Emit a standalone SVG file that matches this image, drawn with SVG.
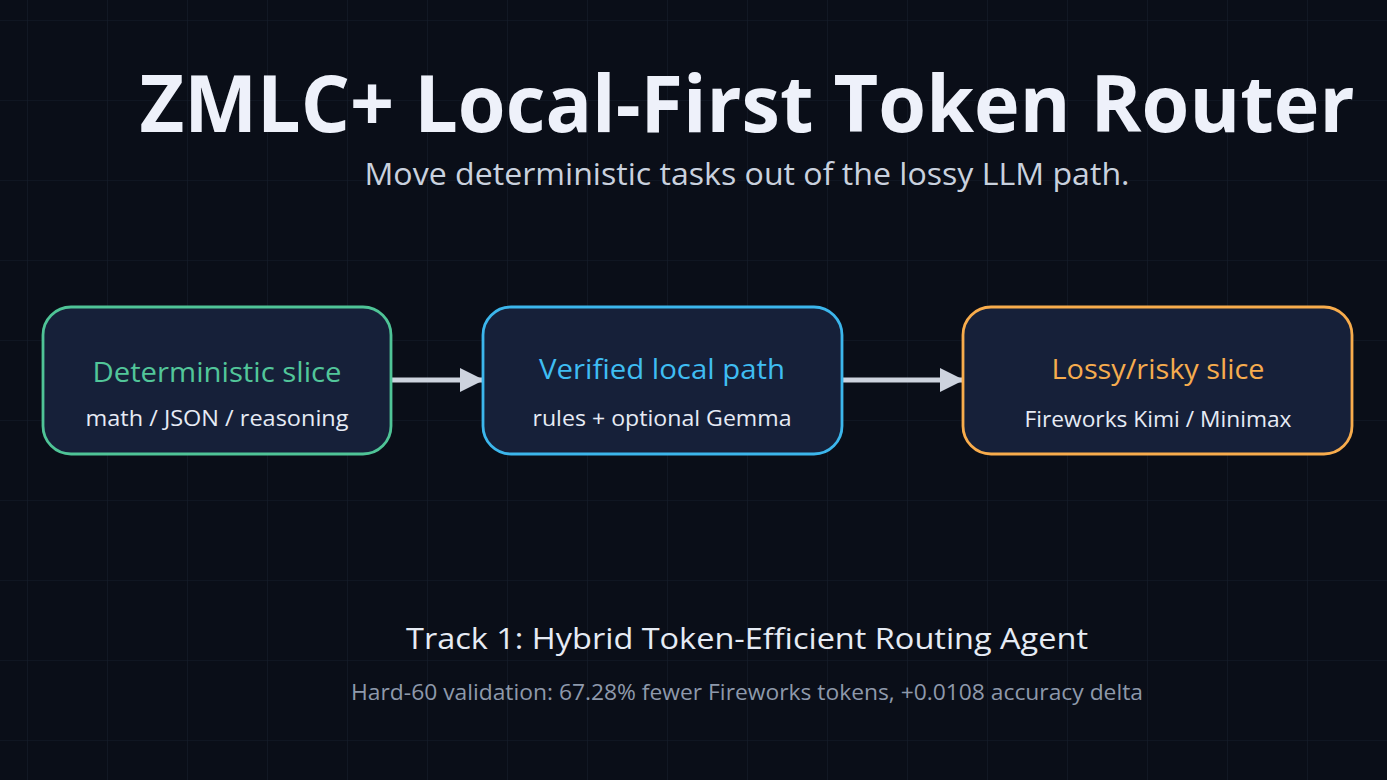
<svg xmlns="http://www.w3.org/2000/svg" width="1387" height="780" viewBox="0 0 1387 780">
<defs>
<pattern id="grid" x="27" y="20" width="80" height="80" patternUnits="userSpaceOnUse">
<path d="M0 0V80M0 0H80" fill="none" stroke="#161d2b" stroke-width="1.2"/>
</pattern>
<marker id="ah" markerWidth="24" markerHeight="24" viewBox="0 0 24 24" refX="23" refY="12" orient="auto" markerUnits="userSpaceOnUse">
<path d="M0 0L24 12L0 24Z" fill="#cdd3de"/>
</marker>
</defs>
<style>
text{font-family:"Open Sans","Noto Sans","Liberation Sans",sans-serif;text-anchor:middle}
.box{fill:#162039;stroke-width:2.8}
.t{font-size:28px}
.s{font-size:21px;fill:#e6ebf5}
.edge{stroke:#cdd3de;stroke-width:5;fill:none}
</style>
<rect width="1387" height="780" fill="#0a0e18"/>
<rect width="1387" height="780" fill="url(#grid)"/>
<g id="header">
<text x="747" y="132" font-size="78" font-weight="700" fill="#eef1fa" textLength="1215" lengthAdjust="spacingAndGlyphs">ZMLC+ Local-First Token Router</text>
<text x="747" y="185" font-size="31" fill="#c9d1de" textLength="765" lengthAdjust="spacingAndGlyphs">Move deterministic tasks out of the lossy LLM path.</text>
</g>
<g id="connectors">
<line class="edge" x1="391" y1="380" x2="483" y2="380" marker-end="url(#ah)"/>
<line class="edge" x1="842" y1="380" x2="963" y2="380" marker-end="url(#ah)"/>
</g>
<g id="node-deterministic">
<rect class="box" x="43" y="307" width="348" height="147" rx="28" stroke="#4fc497"/>
<text class="t" x="217" y="382" fill="#52c69a" textLength="249" lengthAdjust="spacingAndGlyphs">Deterministic slice</text>
<text class="s" x="217" y="426" textLength="263" lengthAdjust="spacingAndGlyphs">math / JSON / reasoning</text>
</g>
<g id="node-verified">
<rect class="box" x="483" y="307" width="359" height="147" rx="28" stroke="#3cb6ec"/>
<text class="t" x="662" y="379" fill="#3fbdf2" textLength="246" lengthAdjust="spacingAndGlyphs">Verified local path</text>
<text class="s" x="662" y="426" textLength="259" lengthAdjust="spacingAndGlyphs">rules + optional Gemma</text>
</g>
<g id="node-lossy">
<rect class="box" x="963" y="307" width="389" height="147" rx="28" stroke="#f8ac4c"/>
<text class="t" x="1158" y="379" fill="#f6ac4e" textLength="213" lengthAdjust="spacingAndGlyphs">Lossy/risky slice</text>
<text class="s" x="1158" y="427" textLength="267" lengthAdjust="spacingAndGlyphs">Fireworks Kimi / Minimax</text>
</g>
<g id="footer">
<text x="747" y="649" font-size="29" fill="#e6ebf4" textLength="682" lengthAdjust="spacingAndGlyphs">Track 1: Hybrid Token-Efficient Routing Agent</text>
<text x="747" y="700" font-size="21" fill="#8e99ab" textLength="792" lengthAdjust="spacingAndGlyphs">Hard-60 validation: 67.28% fewer Fireworks tokens, +0.0108 accuracy delta</text>
</g>
</svg>
